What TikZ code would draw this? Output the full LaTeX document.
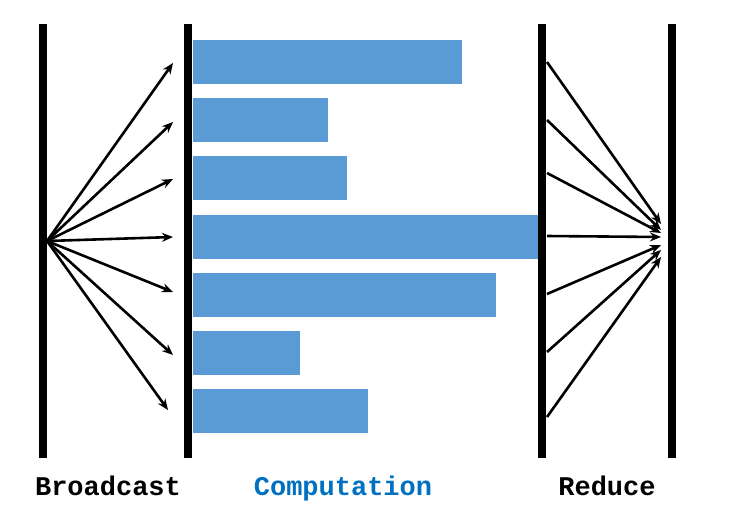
\documentclass[tikz,border=0pt]{standalone}
\usepackage{fontspec}
\setmonofont{Liberation Mono}
\usepackage{tikz}
\usetikzlibrary{arrows.meta,positioning}
\definecolor{barblue}{RGB}{91,155,213}
\definecolor{textblue}{RGB}{0,112,192}

\tikzset{
  wall/.style={line width=8pt},
  compbar/.style={fill=barblue, draw=none, anchor=west, minimum height=44pt, inner sep=0pt},
  flow/.style={->, line width=2.6pt},
  phase/.style={font=\fontsize{27}{30}\selectfont\ttfamily\bfseries, inner sep=0pt, anchor=base}
}

\begin{document}
\begin{tikzpicture}[x=1pt, y=-1pt, >={Stealth[length=11pt,width=9pt]}]
  \useasboundingbox (0,0) rectangle (752,520);
  % walls
  \foreach \name/\x in {wa/43, wb/188, wc/542, wd/672} {
    \coordinate (\name top) at (\x,24);
    \coordinate (\name bot) at (\x,458);
    \draw[wall] (\name top) -- (\name bot);
  }
  % computation bars
  \foreach \i/\y/\w in {1/62/269, 2/120/135, 3/178/154, 4/237/345, 5/295/303, 6/353/107, 7/411/175}
    \node[compbar, minimum width=\w pt] (comp\i) at (193,\y) {};
  % broadcast
  \coordinate (src) at (47,241);
  \foreach \i/\x/\y in {1/173/63, 2/173/122, 3/173/179, 4/173/237, 5/173/292, 6/173/355, 7/168/410} {
    \coordinate (out\i) at (\x,\y);
    \draw[flow] (src) -- (out\i);
  }
  % reduce
  \foreach \i/\y/\t in {1/62/224, 2/120/230, 3/173/233, 4/236/237, 5/294/245, 6/352/250, 7/417/257} {
    \coordinate (in\i) at (547,\y);
    \coordinate (sink\i) at (661,\t);
    \draw[flow] (in\i) -- (sink\i);
  }
  % labels
  \node[phase] (bcast) at (108,495) {Broadcast};
  \node[phase, textblue] (comp) at (343,495) {Computation};
  \node[phase] (reduce) at (607,495) {Reduce};
\end{tikzpicture}
\end{document}
